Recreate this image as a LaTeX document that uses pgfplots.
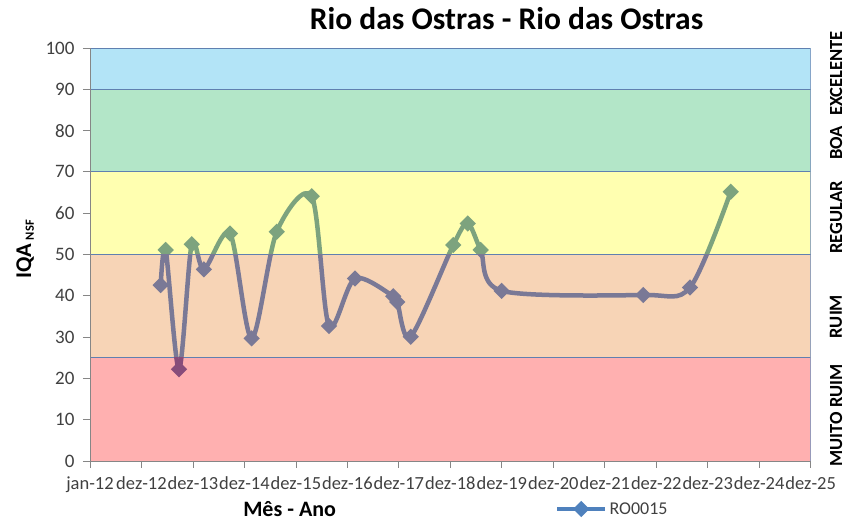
\documentclass[border=0pt]{standalone}
\usepackage{pgfplots}
\usepackage{pgfplotstable}
\pgfplotsset{compat=1.18}
\usepackage{fontspec}
\setmainfont{Carlito}
\definecolor{bBlue}{RGB}{179,228,247}
\definecolor{bGreen}{RGB}{179,230,200}
\definecolor{bYellow}{RGB}{255,255,176}
\definecolor{bPeach}{RGB}{247,212,182}
\definecolor{bRed}{RGB}{255,176,176}
\definecolor{bandline}{RGB}{96,128,176}
\definecolor{axgray}{RGB}{134,134,134}
\definecolor{tickgray}{RGB}{64,64,64}
\definecolor{lGreen}{RGB}{125,163,126}
\definecolor{lGray}{RGB}{122,121,150}
\definecolor{lPurple}{RGB}{136,76,122}
\definecolor{legblue}{RGB}{79,129,189}

\pgfplotstableread{
x y
1.373 42.6
1.470 51.1
1.729 22.2
1.976 52.5
2.214 46.4
2.720 55.1
3.141 29.7
3.627 55.5
4.307 64.1
4.643 32.7
5.148 44.2
5.892 39.9
5.969 38.5
6.230 30.1
7.057 52.3
7.337 57.5
7.589 51.1
7.997 41.2
10.748 40.2
11.655 42.0
12.446 65.2
}\dataIQA

\begin{document}
\begin{tikzpicture}
\begin{axis}[name=ax, scale only axis, width=720.7pt, height=413pt,
  xmin=0, xmax=14, ymin=0, ymax=100,
  axis on top=true,
  axis x line*=bottom, axis y line*=left,
  axis line style={draw=axgray, line width=0.8pt, -},
  xtick={0,...,14},
  xticklabels={jan-12,dez-12,dez-13,dez-14,dez-15,dez-16,dez-17,dez-18,dez-19,dez-20,dez-21,dez-22,dez-23,dez-24,dez-25},
  ytick={0,10,...,100},
  tick align=outside, major tick length=7pt,
  tick style={draw=axgray, line width=0.8pt},
  ticklabel style={font=\fontsize{18.5}{21}\selectfont, text=tickgray},
  yticklabel style={xshift=-5pt, font=\fontsize{19}{21}\selectfont},
  xticklabel style={yshift=-5pt},
  /pgf/number format/assume math mode=true,
  title={Rio das Ostras - Rio das Ostras},
  title style={at={(axis description cs:0.578,1)}, anchor=base, yshift=12pt, font=\bfseries\fontsize{31.5}{33}\selectfont},
  xlabel={Mês - Ano},
  xlabel style={at={(axis description cs:0.277,0)}, anchor=base, yshift=-56pt, font=\bfseries\fontsize{22}{24}\selectfont},
  ylabel={IQA\,\raisebox{-0.25ex}{\fontsize{12.5}{13}\selectfont NSF}},
  ylabel style={at={(axis description cs:-0.090,0.512)}, anchor=center, font=\bfseries\fontsize{22.5}{24}\selectfont},
  clip marker paths=true,
  legend style={at={(axis description cs:0.645,0)}, anchor=west, yshift=-48pt, draw=none, fill=none, inner sep=0pt,
    font=\fontsize{18}{20}\selectfont, text=tickgray, nodes={inner sep=2pt}},
  legend image code/.code={\draw[mark repeat=2,mark phase=2,#1] plot coordinates {(0pt,0pt) (24pt,0pt) (48pt,0pt)};},
]
\addplot[fill=bRed, draw=bandline, line width=0.8pt, forget plot] coordinates {(0,0) (14,0) (14,25) (0,25)} -- cycle;
\addplot[fill=bPeach, draw=bandline, line width=0.8pt, forget plot] coordinates {(0,25) (14,25) (14,50) (0,50)} -- cycle;
\addplot[fill=bYellow, draw=bandline, line width=0.8pt, forget plot] coordinates {(0,50) (14,50) (14,70) (0,70)} -- cycle;
\addplot[fill=bGreen, draw=bandline, line width=0.8pt, forget plot] coordinates {(0,70) (14,70) (14,90) (0,90)} -- cycle;
\addplot[fill=bBlue, draw=bandline, line width=0.8pt, forget plot] coordinates {(0,90) (14,90) (14,100) (0,100)} -- cycle;

\begin{scope}
\clip (axis cs:-1,50) rectangle (axis cs:15,120);
\addplot[smooth, color=lGreen, line width=4.5pt, mark=square*, mark size=3.5pt, mark options={rotate=45, solid}, forget plot] table {\dataIQA};
\end{scope}
\begin{scope}
\clip (axis cs:-1,25) rectangle (axis cs:15,50);
\addplot[smooth, color=lGray, line width=4.5pt, mark=square*, mark size=3.5pt, mark options={rotate=45, solid}, forget plot] table {\dataIQA};
\end{scope}
\begin{scope}
\clip (axis cs:-1,-20) rectangle (axis cs:15,25);
\addplot[smooth, color=lPurple, line width=4.5pt, mark=square*, mark size=3.5pt, mark options={rotate=45, solid}, forget plot] table {\dataIQA};
\end{scope}

\addlegendimage{color=legblue, line width=4.5pt, mark=square*, mark size=3.5pt, mark options={rotate=45, solid}}
\addlegendentry{RO0015}
\end{axis}

\begin{axis}[at={(ax.south west)}, anchor=south west, scale only axis, width=720.7pt, height=413pt,
  xmin=0, xmax=14, ymin=0, ymax=100,
  hide x axis, axis y line*=right, axis line style={draw=none},
  ytick={11,35,59,77,93.8},
  yticklabels={MUITO RUIM,RUIM,REGULAR,BOA,EXCELENTE},
  major tick length=0pt,
  yticklabel shift=19pt,
  yticklabel style={rotate=90, anchor=north, inner sep=0pt, font=\bfseries\fontsize{18.5}{20}\selectfont, text=black},
]
\end{axis}

\pgfresetboundingbox
\path ([shift={(-90pt,-60pt)}]ax.south west) rectangle ([shift={(756pt,461pt)}]ax.south west);
\end{tikzpicture}
\end{document}
